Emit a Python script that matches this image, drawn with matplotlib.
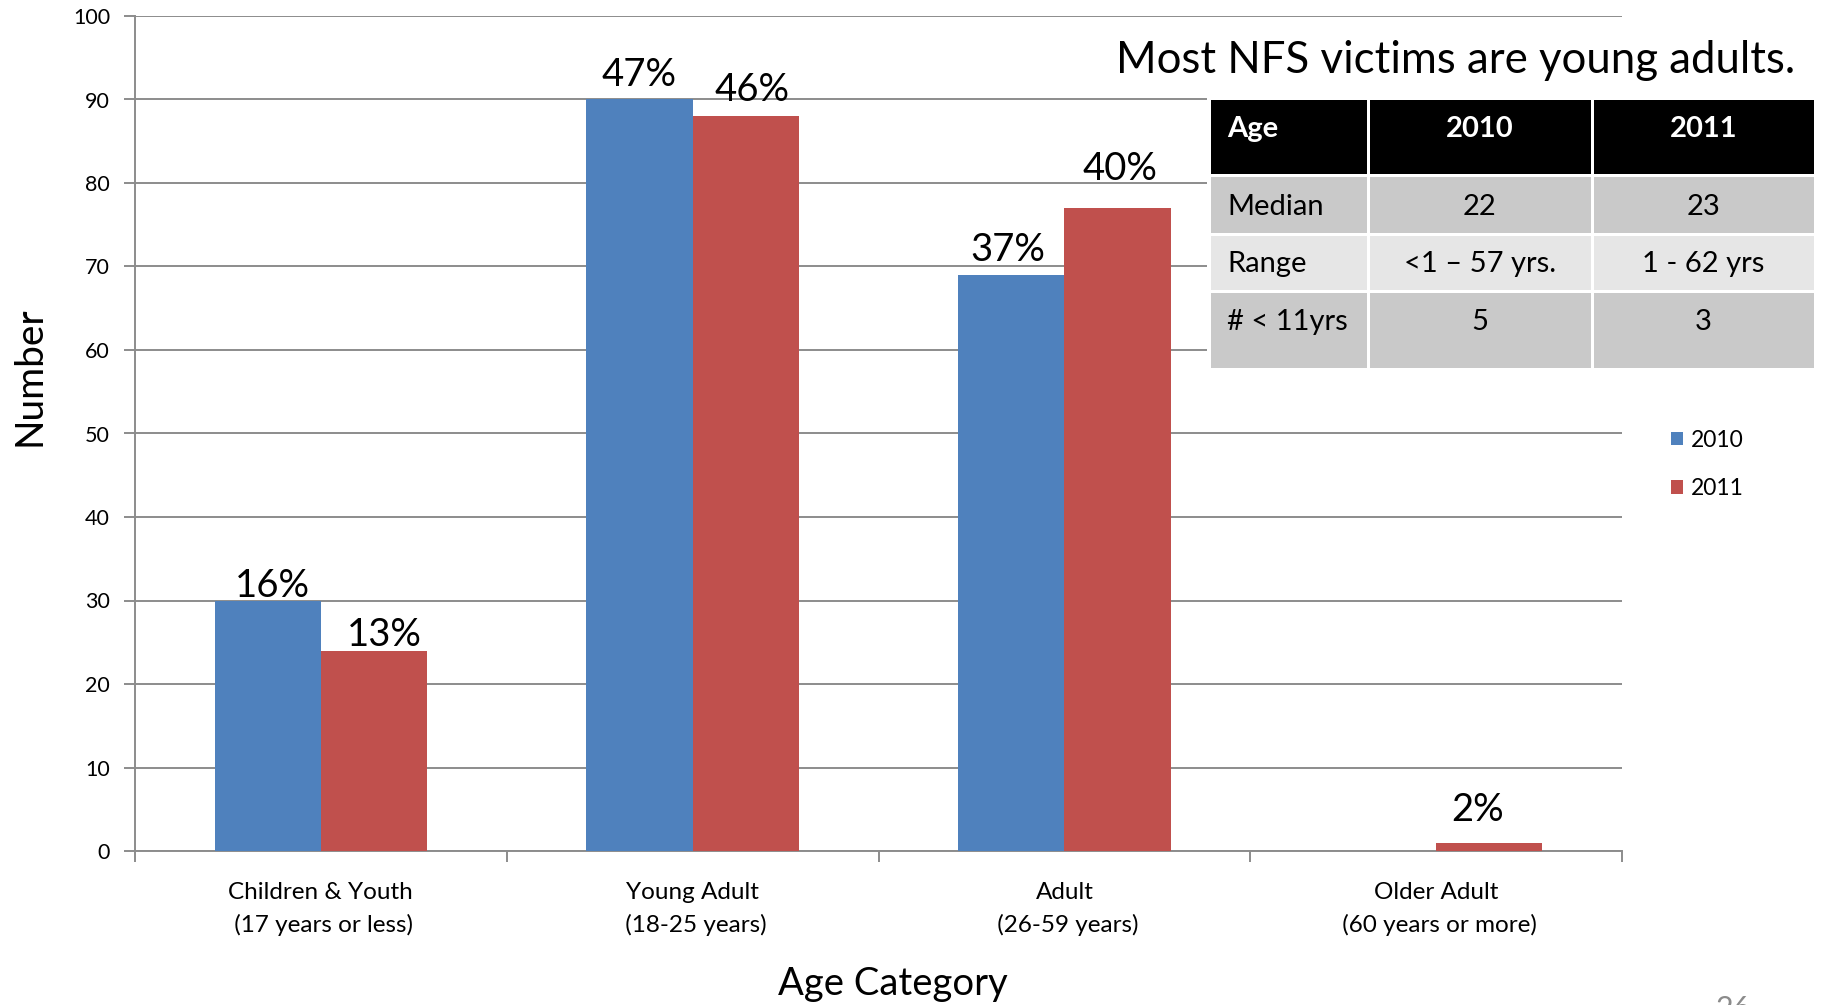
import matplotlib
matplotlib.use('Agg')
import matplotlib.pyplot as plt
from matplotlib.patches import Rectangle
import numpy as np

plt.rcParams['font.family'] = ['Lato', 'DejaVu Sans']

# chart data
categories = ['Children & Youth\n (17 years or less)', 'Young Adult\n (18-25 years)',
              'Adult\n (26-59 years)', 'Older Adult\n (60 years or more)']
count_2010 = [30, 90, 69, 0]
count_2011 = [24, 88, 77, 1]
pct_2010 = ['16%', '47%', '37%', '']
pct_2011 = ['13%', '46%', '40%', '2%']

# summary table
table_header = ['Age', '2010', '2011']
table_rows = [['Median', '22', '23'],
              ['Range', '<1 \u2013 57 yrs.', '1 - 62 yrs'],
              ['# < 11yrs', '5', '3']]

# hand placed label nudges (points), the slide had them as loose text boxes
nudge_2010 = [(3.3, -2.7), (0, 4.8), (-2.5, 4.8), (0, 0)]
nudge_2011 = [(7.5, -1.9), (4.2, 5.7), (1.7, 14.9), (-8.4, 10.7)]

blue = '#4F81BD'
red = '#C0504D'
grid_c = '#8C8C8C'

W, H = 1822, 1005
fig = plt.figure(figsize=(W / 100, H / 100), dpi=100)
ax = fig.add_axes([135 / W, 1 - 851 / H, (1622 - 135) / W, (851 - 16) / H])

x = np.arange(len(categories))
bw = 0.286
b1 = ax.bar(x - bw / 2, count_2010, bw, color=blue, label='2010', zorder=3)
b2 = ax.bar(x + bw / 2, count_2011, bw, color=red, label='2011', zorder=3)

for bars, labels, nudges in ((b1, pct_2010, nudge_2010), (b2, pct_2011, nudge_2011)):
    for b, lab, nd in zip(bars, labels, nudges):
        if lab:
            ax.annotate(lab, (b.get_x() + b.get_width() / 2, b.get_height()),
                        xytext=nd, textcoords='offset points',
                        ha='center', va='bottom', fontsize=27.5, zorder=4)

ax.set_xlim(-0.5, len(categories) - 0.5)
ax.set_ylim(0, 100)
ax.set_yticks(range(0, 101, 10))
ax.yaxis.grid(True, color=grid_c, linewidth=1.4, zorder=0)
ax.set_axisbelow(True)

# category ticks at group boundaries, labels centred under groups
ax.set_xticks(np.arange(-0.5, len(categories), 1.0))
ax.set_xticklabels([])
ax.set_xticks(x, minor=True)
ax.set_xticklabels(categories, minor=True, fontsize=17.5, linespacing=1.65)
ax.tick_params(axis='x', which='minor', length=0, pad=22)
ax.tick_params(axis='x', which='major', length=8, width=1.4, color=grid_c)
ax.tick_params(axis='y', length=8, width=1.4, color=grid_c, labelsize=15.5, pad=10)

for s in ('top', 'right'):
    ax.spines[s].set_visible(False)
for s in ('left', 'bottom'):
    ax.spines[s].set_color(grid_c)
    ax.spines[s].set_linewidth(1.4)

fig.text(29 / W, 1 - 376 / H, 'Number', fontsize=28, rotation=90, ha='center', va='center')
fig.text(893 / W, 1 - 984 / H, 'Age Category', fontsize=27.5, ha='center', va='center')

ax.legend(loc='upper left', bbox_to_anchor=(1650 / W, 1 - 409 / H),
          bbox_transform=fig.transFigure, frameon=False, fontsize=16.5,
          handlelength=0.55, handleheight=0.55, handletextpad=0.35, labelspacing=1.2)

# overlay in pixel coords for title and table
ov = fig.add_axes([0, 0, 1, 1], zorder=5)
ov.set_xlim(0, W)
ov.set_ylim(H, 0)
ov.axis('off')
ov.patch.set_alpha(0)

ov.text(1795, 60, 'Most NFS victims are young adults.', fontsize=31.5,
        ha='right', va='center')

col_edges = [1209, 1368, 1592, 1815]
row_edges = [(100, 174), (177, 233), (236, 290), (293, 368)]
row_fill = ['#000000', '#C9C9C9', '#E6E6E6', '#C9C9C9']
text_y = [129, 207, 264, 322]

ov.add_patch(Rectangle((col_edges[0] - 2, row_edges[0][0] - 2),
                       col_edges[-1] - col_edges[0] + 4, row_edges[-1][1] - row_edges[0][0] + 4,
                       facecolor='white', edgecolor='none'))
rows = [table_header] + table_rows
for r, (y0, y1) in enumerate(row_edges):
    for c in range(3):
        x0, x1 = col_edges[c], col_edges[c + 1]
        ov.add_patch(Rectangle((x0 + 1.5, y0), x1 - x0 - 3, y1 - y0,
                               facecolor=row_fill[r], edgecolor='none'))
        if r == 0:
            kw = dict(color='white', fontweight='bold')
        else:
            kw = dict(color='black')
        if c == 0:
            ov.text(x0 + 18, text_y[r], rows[r][c], ha='left', va='center', fontsize=21, **kw)
        else:
            ov.text((x0 + x1) / 2, text_y[r], rows[r][c], ha='center', va='center', fontsize=21, **kw)

# page number, cut off at the slide edge
ov.text(1733, 995, '26', fontsize=22, color='#8B8B8B', ha='center', va='top')

fig.savefig('out.png', dpi=100)
